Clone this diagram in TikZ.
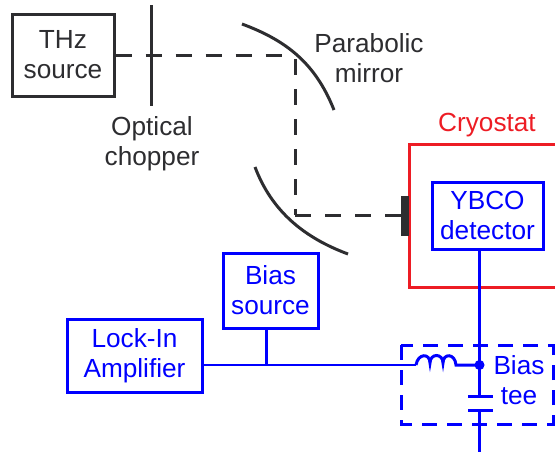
\documentclass[tikz,border=0pt]{standalone}
\usepackage{fontspec}
\setmainfont{Liberation Sans}
\definecolor{bl}{RGB}{0,0,255}
\definecolor{rd}{RGB}{237,28,36}
\definecolor{dk}{RGB}{45,45,48}
\newcommand{\lblfont}{\fontsize{26.2}{30}\selectfont}
\begin{document}
\begin{tikzpicture}[x=1pt,y=-1pt,
  lbl/.style={font=\lblfont,align=center,inner sep=0pt,text=#1},
  lbl/.default=dk,
  blbox/.style={draw=bl,line width=3pt,inner sep=0pt,font=\lblfont,align=center,text=bl},
  beam/.style={draw=dk,line width=3pt,dash pattern=on 16pt off 14pt},
  wire/.style={draw=bl,line width=3pt},
  mir/.style={draw=dk,line width=3pt}]
\useasboundingbox (0,0) rectangle (555,453);
% boxes
\node[draw=dk,line width=3pt,inner sep=0pt,minimum width=102pt,minimum height=82pt,font=\lblfont,align=center,text=dk] (thz) at (63,55) {THz\\source};
\node[blbox,minimum width=135pt,minimum height=73pt] (lock) at (134.5,355.5) {Lock-In\\Amplifier};
\node[blbox,minimum width=95pt,minimum height=75pt] (bias) at (270.5,290.5) {Bias\\source};
\node[blbox,minimum width=111pt,minimum height=67pt] (ybco) at (487.5,215.5) {YBCO\\detector};
% labels
\node[lbl] (chop) at (152,144) {Optical\\chopper};
\node[lbl] (para) at (369,58) {Parabolic\\mirror};
\node[lbl=rd] (cryo) at (487,125) {Cryostat};
\node[lbl=bl] (tee) at (519,380.5) {Bias\\tee};
% cryostat
\coordinate (crTR) at (557,144);
\coordinate (crTL) at (409.5,144);
\coordinate (crBL) at (409.5,287);
\coordinate (crBR) at (557,287);
\draw[draw=rd,line width=3pt] (crTR) -- (crTL) -- (crBL) -- (crBR);
% chopper
\coordinate (chT) at (151,5);
\coordinate (chB) at (151,106);
\draw[draw=dk,line width=3pt] (chT) -- (chB);
% beam
\coordinate (m1) at (295,55);
\coordinate (m2) at (295,215);
\coordinate (det) at (401,215);
\draw[beam] (thz.east |- m1) -- (282,55);
\draw[beam,dash phase=26pt] (m1) -- (m2);
\draw[beam] (m2) -- (det);
% detector block
\node[fill=dk,draw=none,minimum width=8pt,minimum height=40pt,inner sep=0pt] (blk) at (404.5,216) {};
% mirrors
\coordinate (u1) at (242,24);
\coordinate (u2) at (334,110);
\coordinate (l1) at (255,167);
\coordinate (l2) at (348,254);
\draw[mir] (u1) .. controls (285,40) and (315,62) .. (u2);
\draw[mir] (l1) .. controls (272,212) and (305,238) .. (l2);
% dashed tee box
\coordinate (tA) at (401,345);
\coordinate (tB) at (553,424);
\draw[wire,dash pattern=on 15pt off 10pt] (tA) rectangle (tB);
% wires
\coordinate (dot) at (479.5,365);
\coordinate (indL) at (416,365);
\coordinate (indR) at (456,365);
\coordinate (capT) at (479.5,396);
\coordinate (capB) at (479.5,410);
\coordinate (end) at (479.5,452);
\coordinate (tap) at (266,365);
\draw[wire,line width=2.8pt] (lock.east |- tap) -- (indL);
\draw[wire] (bias.south -| tap) -- (tap);
\draw[wire] (indL) .. controls (418,353) and (430,353) .. (430,363)
  .. controls (430,353) and (443,353) .. (443,363)
  .. controls (443,353) and (455,353) .. (456,365) -- (indR) -- (dot);
\draw[wire] (ybco.south -| dot) -- (capT);
\draw[wire] (capB) -- (end);
\draw[wire] (468,396) -- (493,396);
\draw[wire] (468,410) -- (493,410);
\fill[bl] (dot) circle (5pt);
\end{tikzpicture}
\end{document}
